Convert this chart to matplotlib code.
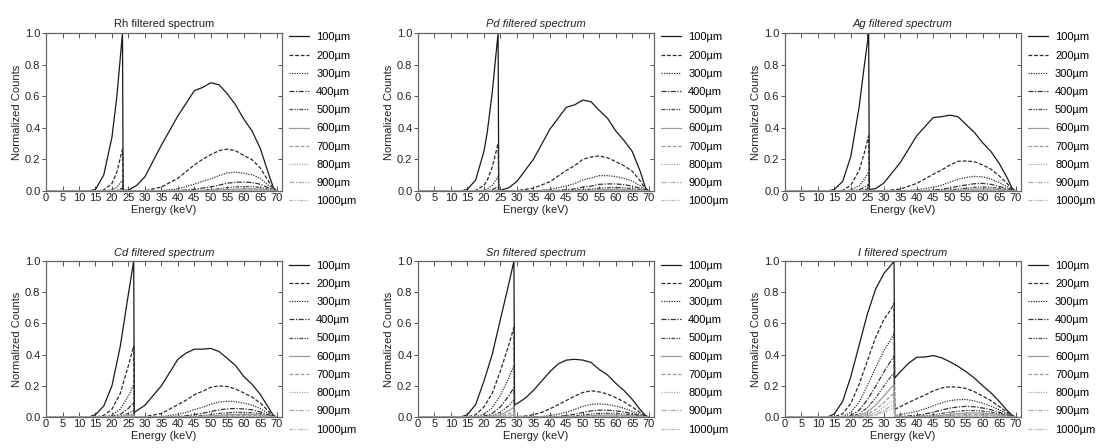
import matplotlib
matplotlib.use('Agg')
import matplotlib.pyplot as plt

plt.rcParams['font.family'] = ['Liberation Sans', 'DejaVu Sans']

thickness_labels = ['100µm', '200µm', '300µm', '400µm', '500µm',
                    '600µm', '700µm', '800µm', '900µm', '1000µm']

# ---- Rh ----
rh_energy = [0, 13, 15, 17.5, 20, 21.5, 23.2, 23.4, 25, 27.5, 30, 35, 40, 45, 47.5, 50,
             52.5, 55, 57.5, 60, 62.5, 65, 67.5, 69, 70]
rh_counts = [
    [0, 0, 0.01, 0.1, 0.34, 0.6, 1.0, 0.005, 0.005, 0.035, 0.09, 0.29, 0.475, 0.635, 0.655, 0.685, 0.672, 0.615, 0.545, 0.455, 0.38, 0.27, 0.11, 0.02, 0],
    [0, 0, 0, 0.006, 0.048, 0.12, 0.265, 0, 0, 0, 0.001, 0.025, 0.08, 0.165, 0.2, 0.23, 0.255, 0.265, 0.255, 0.225, 0.198, 0.146, 0.062, 0.01, 0],
    [0, 0, 0, 0.0003, 0.0067, 0.024, 0.07, 0, 0, 0, 0, 0.002, 0.0134, 0.043, 0.061, 0.077, 0.097, 0.114, 0.119, 0.1125, 0.103, 0.079, 0.035, 0.005, 0],
    [0, 0, 0, 0, 0.001, 0.0048, 0.0186, 0, 0, 0, 0, 0.0002, 0.0022, 0.011, 0.0186, 0.026, 0.037, 0.049, 0.0557, 0.056, 0.0536, 0.0427, 0.0196, 0.003, 0],
    [0, 0, 0, 0, 0.0001, 0.001, 0.0049, 0, 0, 0, 0, 0, 0.0004, 0.0029, 0.0057, 0.0087, 0.014, 0.021, 0.026, 0.028, 0.0279, 0.023, 0.011, 0.002, 0],
    [0, 0, 0, 0, 0, 0.0002, 0.0013, 0, 0, 0, 0, 0, 0, 0.0008, 0.0017, 0.0029, 0.0053, 0.009, 0.0122, 0.014, 0.0145, 0.0124, 0.0062, 0.001, 0],
    [0, 0, 0, 0, 0, 0, 0.0003, 0, 0, 0, 0, 0, 0, 0.0002, 0.0005, 0.001, 0.002, 0.0039, 0.0057, 0.007, 0.0075, 0.0067, 0.0035, 0.0006, 0],
    [0, 0, 0, 0, 0, 0, 0.0001, 0, 0, 0, 0, 0, 0, 0, 0.0002, 0.0003, 0.0008, 0.0017, 0.0027, 0.0035, 0.0039, 0.0036, 0.002, 0.0003, 0],
    [0, 0, 0, 0, 0, 0, 0, 0, 0, 0, 0, 0, 0, 0, 0, 0.0001, 0.0003, 0.0007, 0.0013, 0.0018, 0.002, 0.002, 0.0011, 0.0002, 0],
    [0, 0, 0, 0, 0, 0, 0, 0, 0, 0, 0, 0, 0, 0, 0, 0, 0.0001, 0.0003, 0.0006, 0.0009, 0.001, 0.0011, 0.0006, 0.0001, 0],
]

# ---- Pd ----
pd_energy = [0, 13, 15, 17.5, 20, 21, 22.5, 24.3, 24.5, 25, 27.5, 30, 35, 40, 45, 47.5, 50,
             52.5, 55, 57.5, 60, 62.5, 65, 67.5, 69, 70]
pd_counts = [
    [0, 0, 0.01, 0.07, 0.25, 0.37, 0.62, 1.0, 0.004, 0.004, 0.02, 0.06, 0.2, 0.39, 0.53, 0.545, 0.575, 0.565, 0.51, 0.46, 0.38, 0.32, 0.25, 0.12, 0.02, 0],
    [0, 0, 0.0001, 0.004, 0.035, 0.067, 0.15, 0.3, 0, 0, 0, 0.002, 0.018, 0.058, 0.13, 0.16, 0.2, 0.215, 0.222, 0.21, 0.186, 0.16, 0.125, 0.062, 0.01, 0],
    [0, 0, 0, 0.0002, 0.005, 0.012, 0.036, 0.09, 0, 0, 0, 0, 0.0016, 0.0087, 0.032, 0.046, 0.07, 0.082, 0.097, 0.097, 0.091, 0.08, 0.0625, 0.032, 0.005, 0],
    [0, 0, 0, 0, 0.0007, 0.002, 0.0086, 0.027, 0, 0, 0, 0, 0.0001, 0.0013, 0.0078, 0.0134, 0.0245, 0.031, 0.042, 0.0446, 0.0446, 0.04, 0.031, 0.0167, 0.0027, 0],
    [0, 0, 0, 0, 0.0001, 0.0004, 0.002, 0.008, 0, 0, 0, 0, 0, 0.0002, 0.0019, 0.0039, 0.0086, 0.0118, 0.018, 0.0205, 0.0218, 0.02, 0.0156, 0.0087, 0.0014, 0],
    [0, 0, 0, 0, 0, 0, 0.0005, 0.0024, 0, 0, 0, 0, 0, 0, 0.0005, 0.0011, 0.003, 0.0045, 0.0079, 0.0094, 0.0107, 0.01, 0.0078, 0.0045, 0.0007, 0],
    [0, 0, 0, 0, 0, 0, 0.0001, 0.0007, 0, 0, 0, 0, 0, 0, 0.0001, 0.0003, 0.001, 0.0017, 0.0034, 0.0043, 0.0052, 0.005, 0.0039, 0.0023, 0.0004, 0],
    [0, 0, 0, 0, 0, 0, 0, 0.0002, 0, 0, 0, 0, 0, 0, 0, 0.0001, 0.0004, 0.0007, 0.0015, 0.002, 0.0026, 0.0025, 0.002, 0.0012, 0.0002, 0],
    [0, 0, 0, 0, 0, 0, 0, 0, 0, 0, 0, 0, 0, 0, 0, 0, 0.0001, 0.0003, 0.0006, 0.0009, 0.0013, 0.0013, 0.001, 0.0006, 0.0001, 0],
    [0, 0, 0, 0, 0, 0, 0, 0, 0, 0, 0, 0, 0, 0, 0, 0, 0, 0.0001, 0.0003, 0.0004, 0.0006, 0.0006, 0.0005, 0.0003, 0, 0],
]

# ---- Ag ----
ag_energy = [0, 13, 15, 17.5, 20, 22.5, 24, 25.4, 25.6, 27.5, 30, 35, 40, 45, 47.5, 50,
             52.5, 55, 57.5, 60, 62.5, 65, 67.5, 69, 70]
ag_counts = [
    [0, 0, 0.01, 0.06, 0.22, 0.53, 0.78, 1.0, 0.01, 0.015, 0.05, 0.18, 0.35, 0.465, 0.47, 0.48, 0.47, 0.42, 0.37, 0.305, 0.25, 0.175, 0.08, 0.015, 0],
    [0, 0, 0.0003, 0.004, 0.037, 0.13, 0.234, 0.35, 0.0002, 0.0003, 0.001, 0.012, 0.048, 0.106, 0.132, 0.163, 0.188, 0.19, 0.185, 0.165, 0.138, 0.096, 0.046, 0.008, 0],
    [0, 0, 0, 0.0003, 0.006, 0.033, 0.072, 0.12, 0, 0, 0, 0.001, 0.0067, 0.024, 0.037, 0.055, 0.075, 0.0855, 0.0925, 0.089, 0.076, 0.053, 0.026, 0.0045, 0],
    [0, 0, 0, 0, 0.001, 0.008, 0.022, 0.042, 0, 0, 0, 0, 0.001, 0.0055, 0.0104, 0.0187, 0.03, 0.0385, 0.046, 0.048, 0.042, 0.029, 0.015, 0.0026, 0],
    [0, 0, 0, 0, 0.0002, 0.002, 0.0065, 0.015, 0, 0, 0, 0, 0.0001, 0.0013, 0.0029, 0.0064, 0.012, 0.0173, 0.023, 0.026, 0.023, 0.016, 0.0085, 0.0015, 0],
    [0, 0, 0, 0, 0, 0.0005, 0.002, 0.005, 0, 0, 0, 0, 0, 0.0003, 0.0008, 0.0022, 0.0048, 0.0078, 0.0115, 0.014, 0.0127, 0.0088, 0.0048, 0.0008, 0],
    [0, 0, 0, 0, 0, 0.0001, 0.0006, 0.0018, 0, 0, 0, 0, 0, 0.0001, 0.0002, 0.0007, 0.0019, 0.0035, 0.0058, 0.0076, 0.007, 0.0048, 0.0027, 0.0005, 0],
    [0, 0, 0, 0, 0, 0, 0.0002, 0.0006, 0, 0, 0, 0, 0, 0, 0, 0.0002, 0.0008, 0.0016, 0.0029, 0.0041, 0.0038, 0.0027, 0.0015, 0.0003, 0],
    [0, 0, 0, 0, 0, 0, 0, 0.0002, 0, 0, 0, 0, 0, 0, 0, 0, 0.0003, 0.0007, 0.0014, 0.0022, 0.0021, 0.0015, 0.0008, 0.0001, 0],
    [0, 0, 0, 0, 0, 0, 0, 0, 0, 0, 0, 0, 0, 0, 0, 0, 0.0001, 0.0003, 0.0007, 0.0012, 0.0011, 0.0008, 0.0005, 0, 0],
]

# ---- Cd ----
cd_energy = [0, 13, 15, 17.5, 20, 22.5, 25, 26.6, 26.8, 27.5, 30, 35, 40, 42.5, 45, 47.5, 50,
             52.5, 55, 57.5, 60, 62.5, 65, 67.5, 69, 70]
cd_counts = [
    [0, 0, 0.015, 0.07, 0.2, 0.45, 0.79, 1.0, 0.03, 0.04, 0.075, 0.2, 0.37, 0.41, 0.435, 0.435, 0.44, 0.42, 0.376, 0.33, 0.26, 0.21, 0.145, 0.06, 0.01, 0],
    [0, 0, 0.0005, 0.01, 0.05, 0.15, 0.33, 0.455, 0.0006, 0.0008, 0.003, 0.022, 0.079, 0.108, 0.143, 0.165, 0.19, 0.2, 0.195, 0.18, 0.154, 0.128, 0.09, 0.037, 0.006, 0],
    [0, 0, 0, 0.0015, 0.0125, 0.05, 0.135, 0.207, 0, 0, 0.0001, 0.0024, 0.017, 0.029, 0.047, 0.063, 0.082, 0.096, 0.101, 0.099, 0.089, 0.077, 0.055, 0.023, 0.004, 0],
    [0, 0, 0, 0.0002, 0.003, 0.0165, 0.055, 0.094, 0, 0, 0, 0.0003, 0.0037, 0.0078, 0.0155, 0.024, 0.035, 0.046, 0.0525, 0.0545, 0.0516, 0.046, 0.0335, 0.014, 0.0025, 0],
    [0, 0, 0, 0, 0.0008, 0.0054, 0.0227, 0.043, 0, 0, 0, 0, 0.0008, 0.0021, 0.0051, 0.009, 0.015, 0.022, 0.0273, 0.03, 0.03, 0.0276, 0.0204, 0.0087, 0.0015, 0],
    [0, 0, 0, 0, 0.0002, 0.0018, 0.0093, 0.0194, 0, 0, 0, 0, 0.0002, 0.0006, 0.0017, 0.0034, 0.0065, 0.0106, 0.0142, 0.0165, 0.0174, 0.0166, 0.0124, 0.0054, 0.001, 0],
    [0, 0, 0, 0, 0, 0.0006, 0.0038, 0.0088, 0, 0, 0, 0, 0, 0.0002, 0.0006, 0.0013, 0.0028, 0.0051, 0.0074, 0.0091, 0.0101, 0.01, 0.0076, 0.0033, 0.0006, 0],
    [0, 0, 0, 0, 0, 0.0002, 0.0016, 0.004, 0, 0, 0, 0, 0, 0, 0.0002, 0.0005, 0.0012, 0.0024, 0.0038, 0.005, 0.0059, 0.006, 0.0046, 0.002, 0.0004, 0],
    [0, 0, 0, 0, 0, 0, 0.0006, 0.0018, 0, 0, 0, 0, 0, 0, 0, 0.0002, 0.0005, 0.0012, 0.002, 0.0028, 0.0034, 0.0036, 0.0028, 0.0013, 0.0002, 0],
    [0, 0, 0, 0, 0, 0, 0.0003, 0.0008, 0, 0, 0, 0, 0, 0, 0, 0, 0.0002, 0.0006, 0.001, 0.0015, 0.002, 0.0022, 0.0017, 0.0008, 0.0001, 0],
]

# ---- Sn ----
sn_energy = [0, 13, 15, 17.5, 20, 22.5, 25, 27.5, 29.1, 29.3, 30, 32.5, 35, 37.5, 40, 42.5, 45,
             47.5, 50, 52.5, 55, 57.5, 60, 62.5, 65, 67.5, 69, 70]
sn_counts = [
    [0, 0, 0.015, 0.08, 0.23, 0.4, 0.626, 0.85, 1.0, 0.08, 0.085, 0.12, 0.17, 0.23, 0.29, 0.34, 0.365, 0.37, 0.365, 0.35, 0.305, 0.27, 0.216, 0.17, 0.113, 0.045, 0.01, 0],
    [0, 0, 0.001, 0.014, 0.064, 0.152, 0.295, 0.46, 0.575, 0.0024, 0.0026, 0.006, 0.0145, 0.029, 0.0525, 0.078, 0.106, 0.133, 0.157, 0.168, 0.161, 0.147, 0.124, 0.098, 0.064, 0.027, 0.005, 0],
    [0, 0, 0, 0.0024, 0.018, 0.058, 0.139, 0.248, 0.33, 0.0001, 0.0001, 0.0003, 0.0012, 0.0036, 0.0092, 0.018, 0.031, 0.048, 0.0675, 0.081, 0.084, 0.08, 0.07, 0.056, 0.037, 0.016, 0.003, 0],
    [0, 0, 0, 0.0004, 0.005, 0.022, 0.065, 0.134, 0.19, 0, 0, 0, 0.0001, 0.0005, 0.0016, 0.0041, 0.009, 0.0173, 0.029, 0.039, 0.0437, 0.0436, 0.0396, 0.0322, 0.0216, 0.0094, 0.0018, 0],
    [0, 0, 0, 0, 0.0014, 0.0084, 0.031, 0.072, 0.109, 0, 0, 0, 0, 0, 0.0003, 0.0009, 0.0026, 0.0062, 0.0125, 0.0187, 0.0227, 0.0238, 0.0224, 0.0185, 0.0126, 0.0055, 0.001, 0],
    [0, 0, 0, 0, 0.0004, 0.0032, 0.0144, 0.039, 0.063, 0, 0, 0, 0, 0, 0, 0.0002, 0.0008, 0.0022, 0.0054, 0.009, 0.0118, 0.013, 0.0127, 0.0106, 0.0074, 0.0032, 0.0006, 0],
    [0, 0, 0, 0, 0.0001, 0.0012, 0.0068, 0.021, 0.036, 0, 0, 0, 0, 0, 0, 0, 0.0002, 0.0008, 0.0023, 0.0043, 0.0061, 0.0071, 0.0072, 0.0061, 0.0043, 0.0019, 0.0004, 0],
    [0, 0, 0, 0, 0, 0.0005, 0.0032, 0.0114, 0.021, 0, 0, 0, 0, 0, 0, 0, 0, 0.0003, 0.001, 0.0021, 0.0032, 0.0039, 0.0041, 0.0035, 0.0025, 0.0011, 0.0002, 0],
    [0, 0, 0, 0, 0, 0.0002, 0.0015, 0.0062, 0.012, 0, 0, 0, 0, 0, 0, 0, 0, 0.0001, 0.0004, 0.001, 0.0016, 0.0021, 0.0023, 0.002, 0.0015, 0.0007, 0.0001, 0],
    [0, 0, 0, 0, 0, 0, 0.0007, 0.0033, 0.0068, 0, 0, 0, 0, 0, 0, 0, 0, 0, 0.0002, 0.0005, 0.0008, 0.0012, 0.0013, 0.0012, 0.0009, 0.0004, 0.0001, 0],
]

# ---- I ----
i_energy = [0, 13, 15, 17.5, 20, 22.5, 25, 27.5, 30, 32, 33.1, 33.3, 35, 37.5, 40, 42.5, 45,
            47.5, 50, 52.5, 55, 57.5, 60, 62.5, 65, 67.5, 69, 70]
i_counts = [
    [0, 0, 0.02, 0.1, 0.26, 0.46, 0.66, 0.82, 0.92, 0.97, 1.0, 0.25, 0.29, 0.345, 0.383, 0.385, 0.394, 0.38, 0.355, 0.325, 0.29, 0.25, 0.2, 0.155, 0.1, 0.04, 0.01, 0],
    [0, 0, 0.0014, 0.02, 0.088, 0.21, 0.36, 0.51, 0.625, 0.685, 0.73, 0.05, 0.066, 0.093, 0.118, 0.14, 0.168, 0.186, 0.194, 0.191, 0.183, 0.162, 0.134, 0.105, 0.068, 0.028, 0.007, 0],
    [0, 0, 0.0001, 0.004, 0.03, 0.095, 0.2, 0.316, 0.425, 0.493, 0.533, 0.01, 0.0149, 0.025, 0.0366, 0.052, 0.072, 0.091, 0.105, 0.111, 0.112, 0.103, 0.088, 0.07, 0.046, 0.019, 0.005, 0],
    [0, 0, 0, 0.0008, 0.01, 0.043, 0.11, 0.196, 0.289, 0.355, 0.389, 0.002, 0.0034, 0.0068, 0.0113, 0.0192, 0.031, 0.0446, 0.0567, 0.0644, 0.0683, 0.0654, 0.0576, 0.047, 0.031, 0.013, 0.0035, 0],
    [0, 0, 0, 0.0002, 0.0034, 0.019, 0.06, 0.122, 0.197, 0.256, 0.284, 0.0004, 0.0008, 0.0018, 0.0035, 0.0071, 0.0133, 0.0219, 0.0306, 0.0374, 0.0417, 0.0415, 0.0377, 0.0315, 0.0211, 0.009, 0.0024, 0],
    [0, 0, 0, 0, 0.0012, 0.0086, 0.033, 0.076, 0.134, 0.184, 0.207, 0, 0.0002, 0.0005, 0.0011, 0.0026, 0.0057, 0.0107, 0.0165, 0.0217, 0.0254, 0.0264, 0.0247, 0.0211, 0.0143, 0.0062, 0.0017, 0],
    [0, 0, 0, 0, 0.0004, 0.0039, 0.018, 0.047, 0.091, 0.133, 0.151, 0, 0, 0.0001, 0.0003, 0.001, 0.0025, 0.0052, 0.0089, 0.0126, 0.0155, 0.0168, 0.0162, 0.0141, 0.0097, 0.0043, 0.0012, 0],
    [0, 0, 0, 0, 0.0001, 0.0017, 0.01, 0.029, 0.062, 0.096, 0.11, 0, 0, 0, 0.0001, 0.0004, 0.0011, 0.0026, 0.0048, 0.0073, 0.0095, 0.0107, 0.0106, 0.0095, 0.0066, 0.003, 0.0008, 0],
    [0, 0, 0, 0, 0, 0.0008, 0.0055, 0.018, 0.042, 0.069, 0.08, 0, 0, 0, 0, 0.0001, 0.0005, 0.0013, 0.0026, 0.0042, 0.0058, 0.0068, 0.0069, 0.0064, 0.0045, 0.002, 0.0006, 0],
    [0, 0, 0, 0, 0, 0.0003, 0.003, 0.011, 0.029, 0.05, 0.059, 0, 0, 0, 0, 0, 0.0002, 0.0006, 0.0014, 0.0024, 0.0035, 0.0043, 0.0045, 0.0043, 0.003, 0.0014, 0.0004, 0],
]

panels = [
    ('Rh filtered spectrum', 'normal', rh_energy, rh_counts),
    ('Pd filtered spectrum', 'italic', pd_energy, pd_counts),
    ('Ag filtered spectrum', 'italic', ag_energy, ag_counts),
    ('Cd filtered spectrum', 'italic', cd_energy, cd_counts),
    ('Sn filtered spectrum', 'italic', sn_energy, sn_counts),
    ('I filtered spectrum', 'italic', i_energy, i_counts),
]

styles = [
    ('-', '#1a1a1a'),
    ((0, (3, 1.5)), '#2a2a2a'),
    ((0, (1, 1)), '#333333'),
    ((0, (4, 1.2, 1, 1.2)), '#333333'),
    ((0, (3, 1, 1, 1, 1, 1)), '#444444'),
    ('-', '#9a9a9a'),
    ((0, (3, 1.5)), '#9a9a9a'),
    ((0, (1, 1)), '#a8a8a8'),
    ((0, (4, 1.2, 1, 1.2)), '#a8a8a8'),
    ((0, (3, 1, 1, 1, 1, 1)), '#b5b5b5'),
]

fig = plt.figure(figsize=(10.96, 4.48), dpi=100)

lefts = [0.042, 0.3814, 0.7162]
rows = [(0.5737, 0.3527), (0.0692, 0.348)]
fs = 8

for k, (title, fstyle, energy, counts) in enumerate(panels):
    r, c = divmod(k, 3)
    bottom, height = rows[r]
    ax = fig.add_axes([lefts[c], bottom, 0.2150, height])
    for j, series in enumerate(counts):
        ls, col = styles[j]
        ax.plot(energy, series, linestyle=ls, color=col, lw=0.9,
                label=thickness_labels[j])
    ax.set_xlim(0, 71.5)
    ax.set_ylim(0, 1.0)
    ax.set_xticks(range(0, 75, 5))
    ax.set_yticks([0, 0.2, 0.4, 0.6, 0.8, 1.0])
    ax.set_yticklabels(['0.0', '0.2', '0.4', '0.6', '0.8', '1.0'])
    ax.tick_params(axis='x', direction='in', top=True, length=3.5, width=0.7,
                   labelsize=fs, pad=1.5, colors='#555555', labelcolor='#222222')
    ax.tick_params(axis='y', direction='out', length=3, width=0.7,
                   labelsize=fs, pad=1, colors='#555555', labelcolor='#222222')
    sec = ax.secondary_yaxis('right')
    sec.set_yticks([0.2, 0.4, 0.6, 0.8])
    sec.tick_params(direction='in', length=3, width=0.7, labelright=False,
                    colors='#555555')
    sec.spines['right'].set_visible(False)
    for sp in ax.spines.values():
        sp.set_color('#666666')
        sp.set_linewidth(0.9)
    ax.set_title(title, fontsize=fs, style=fstyle, pad=4, color='#222222')
    ax.set_xlabel('Energy (keV)', fontsize=fs, labelpad=1.5, color='#222222')
    ax.set_ylabel('Normalized Counts', fontsize=fs, labelpad=2, color='#222222')
    ax.legend(loc='upper left', bbox_to_anchor=(1.0, 1.05), frameon=False,
              fontsize=fs, handlelength=1.8, handletextpad=0.65,
              labelspacing=0.74, borderaxespad=0.45, borderpad=0.2)

fig.savefig('out.png', dpi=100)
